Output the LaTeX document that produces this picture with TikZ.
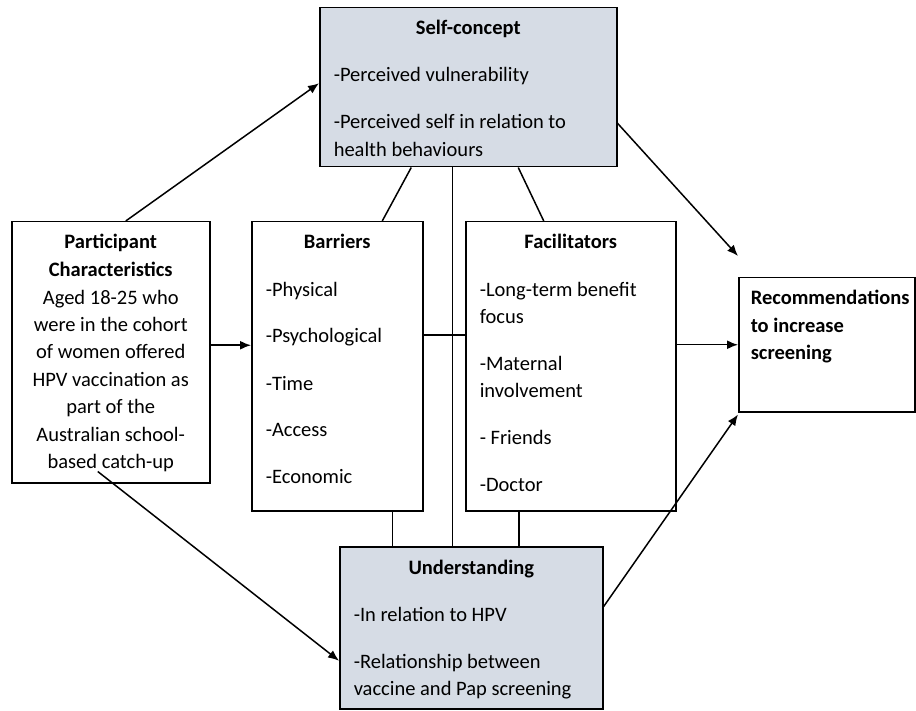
\documentclass[tikz,border=0pt]{standalone}
\usepackage{fontspec}
\setmainfont{Carlito}
\usetikzlibrary{arrows.meta}

\definecolor{boxgrey}{HTML}{D6DCE5}
\newcommand{\boxtxt}[4][14pt]{\parbox[c][#3pt][t]{#2pt}{\raggedright\leftskip=#1\setlength{\parskip}{0pt}\vspace*{8pt}#4}}
\newcommand{\boxtitle}[1]{{\centering\bfseries\strut#1\par}\setlength{\parskip}{19.5pt}}

\tikzset{
	box/.style={draw, line width=1.5pt, inner sep=0pt, anchor=north west},
	arr/.style={line width=1.5pt, -{Latex[length=11pt,width=9pt]}},
	link/.style={line width=1.5pt}
}

\begin{document}
\begin{tikzpicture}[x=1pt, y=-1pt, font=\fontsize{20.5pt}{27.5pt}\selectfont]
		\useasboundingbox (0,0) rectangle (916,711);
		
		\node[box, fill=boxgrey] (selfc) at (319,7) {\boxtxt{297}{159}{\boxtitle{Self-concept}-Perceived vulnerability\par-Perceived self in relation to\\health behaviours}};
		\node[box] (part) at (11,221) {\boxtxt{198}{261}{\centering\bfseries\strut Participant\\Characteristics\\\mdseries Aged 18-25 who\\were in the cohort\\of women offered\\HPV vaccination as\\part of the\\Australian school-\\based catch-up}};
		\node[box] (barr) at (251,221) {\boxtxt{171}{289}{\boxtitle{Barriers}-Physical\par-Psychological\par-Time\par-Access\par-Economic}};
		\node[box] (facil) at (465,221) {\boxtxt{210}{289}{\boxtitle{Facilitators}-Long-term benefit\\focus\par-Maternal\\involvement\par- Friends\par-Doctor}};
		\node[box] (recom) at (738,277) {\boxtxt[12pt]{176}{134}{\bfseries\strut Recommendations\\to increase\\screening}};
		\node[box, fill=boxgrey] (under) at (339,546) {\boxtxt{263}{162}{\boxtitle{Understanding}-In relation to HPV\par-Relationship between\\vaccine and Pap screening}};
		
		\draw[arr] ([xshift=15pt]part.north) -- ([yshift=4pt]selfc.west);
		\draw[arr] ([yshift=7pt]part.east) -- ([yshift=7pt]part.east -| barr.west);
		\draw[arr] ([xshift=-13pt,yshift=12pt]part.south) -- ([yshift=-33pt]under.west);
		\draw[arr] ([yshift=-36pt]selfc.east) -- ([yshift=21pt]recom.north west);
		\draw[arr] (facil.east |- recom.west) -- (recom.west);
		\draw[arr] ([yshift=21pt]under.east) -- ([yshift=-2pt]recom.south west);
		
		\draw[link] ([xshift=-57pt]selfc.south) -- ([xshift=45pt]barr.north);
		\draw[link] ([xshift=-16pt]selfc.south) -- ([xshift=-16pt]selfc.south |- under.north);
		\draw[link] ([xshift=50pt]selfc.south) -- ([xshift=-27pt]facil.north);
		\draw[link] ([yshift=31pt]barr.east) -- ([yshift=31pt]barr.east -| facil.west);
		\draw[link] ([xshift=55pt]barr.south) -- ([xshift=55pt]barr.south |- under.north);
		\draw[link] ([xshift=-52pt]facil.south) -- ([xshift=-52pt]facil.south |- under.north);
	\end{tikzpicture}
\end{document}
